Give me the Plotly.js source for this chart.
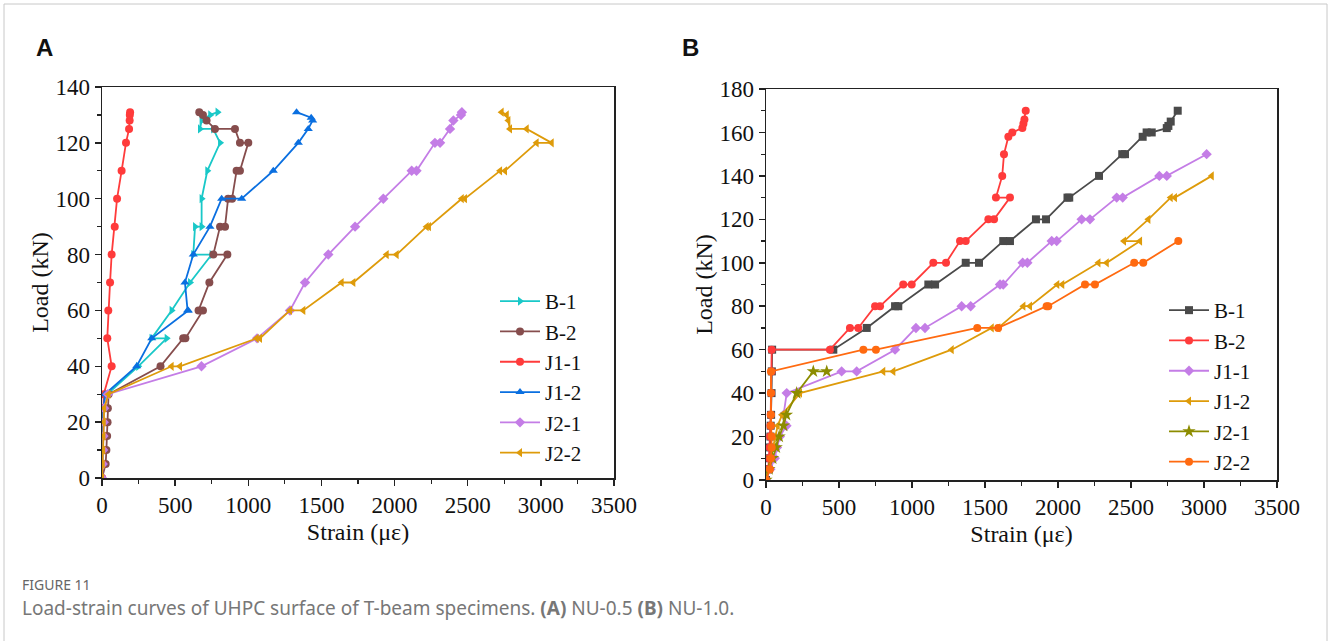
<!DOCTYPE html>
<html>
<head>
<meta charset="utf-8">
<script src="https://cdn.plot.ly/plotly-3.0.1.min.js"></script>
<style>html,body{margin:0;padding:0;background:#fff;}#chart{width:1328px;height:641px;}</style>
</head>
<body>
<div id="chart"></div>
<script>
// ---------- Panel A (NU-0.5) ----------
const seriesNames = ["B-1", "B-2", "J1-1", "J1-2", "J2-1", "J2-2"];

const A_B1_x = [0,2,3,4,5,6,35,248,442,339,476,602,750,624,636,681,681,720,807,760,670,681,740,790];
const A_B1_y = [0,5,10,15,20,25,30,40,50,50,60,70,80,80,90,90,100,110,120,125,125,128,130,131];

const A_B2_x = [0,25,30,35,38,40,45,400,555,570,690,660,734,857,761,807,841,862,889,920,943,1000,943,909,772,715,690,665];
const A_B2_y = [0,5,10,15,20,25,30,40,50,50,60,60,70,80,80,90,90,100,100,110,110,120,120,125,125,128,130,131];

const A_J11_x = [0,3,5,7,8,10,12,66,36,43,55,66,87,103,134,164,185,189,190,192];
const A_J11_y = [0,5,10,15,20,25,30,40,50,60,70,80,90,100,110,120,125,128,130,131];

const A_J12_x = [0,3,5,6,8,10,20,237,340,590,585,567,624,738,818,955,1171,1342,1410,1440,1430,1330];
const A_J12_y = [0,5,10,15,20,25,30,40,50,60,60,70,80,90,100,100,110,120,125,128,129,131];

const A_J21_x = [0,5,8,10,12,15,40,680,1060,1285,1388,1547,1730,1923,2117,2150,2276,2311,2379,2402,2454,2460];
const A_J21_y = [0,5,10,15,20,25,30,40,50,60,70,80,90,100,110,110,120,120,125,128,130,131];

const A_J22_x = [0,5,8,10,12,15,45,476,533,1057,1080,1285,1376,1638,1718,1946,2014,2219,2235,2459,2481,2721,2755,2971,3074,2903,2789,2778,2767,2732];
const A_J22_y = [0,5,10,15,20,25,30,40,40,50,50,60,60,70,70,80,80,90,90,100,100,110,110,120,120,125,125,128,130,131];

// ---------- Panel B (NU-1.0) ----------
const B_B1_x = [0,20,25,28,30,32,35,38,40,42,461,690,884,906,1112,1158,1368,1459,1625,1671,1849,1918,2065,2077,2281,2440,2459,2580,2607,2642,2745,2756,2772,2820];
const B_B1_y = [0,5,10,15,20,25,30,40,50,60,60,70,80,80,90,90,100,100,110,110,120,120,130,130,140,150,150,158,160,160,162,163,165,170];

const B_B2_x = [0,15,20,25,28,30,32,35,38,39,438,575,632,747,781,940,998,1146,1233,1329,1368,1523,1562,1671,1575,1618,1630,1660,1687,1756,1763,1770,1779];
const B_B2_y = [0,5,10,15,20,25,30,40,50,60,60,70,70,80,80,90,90,100,100,110,110,120,120,130,130,140,150,158,160,162,164,166,170];

const B_J11_x = [0,30,60,75,95,140,120,142,518,621,884,1027,1089,1340,1402,1603,1625,1758,1790,1957,1991,2162,2219,2402,2443,2694,2745,3018];
const B_J11_y = [0,5,10,15,20,25,30,40,50,50,60,70,70,80,80,90,90,100,100,110,110,120,120,130,130,140,140,150];

const B_J12_x = [0,15,30,50,60,80,110,233,803,872,1272,1546,1591,1763,1808,1995,2029,2277,2334,2562,2452,2619,2772,2801,3053];
const B_J12_y = [0,5,10,15,20,25,30,40,50,50,60,70,70,80,80,90,90,100,100,110,110,120,130,130,140];

const B_J21_x = [0,20,45,70,90,120,140,210,324,416];
const B_J21_y = [0,5,10,15,20,25,30,40,50,50];

const B_J22_x = [0,27,34,39,39,34,34,34,34,667,753,1447,1590,1922,1933,2185,2253,2522,2584,2824];
const B_J22_y = [0,5,10,15,20,25,30,40,50,60,60,70,70,80,80,90,90,100,100,110];

const xTicks = [0,500,1000,1500,2000,2500,3000,3500];
const yTicksA = [0,20,40,60,80,100,120,140];
const yTicksB = [0,20,40,60,80,100,120,140,160,180];

// ---------- styling ----------
const serif = "Liberation Serif";
const A_colors = ["#19c8c8", "#864d4d", "#ff3b3b", "#0a6fe0", "#c47de6", "#de9b0a"];
const A_symbols = ["triangle-right", "circle", "circle", "triangle-up", "diamond", "triangle-left"];
const B_colors = ["#4a4a4a", "#ff3b3b", "#c47de6", "#de9b0a", "#8c8c00", "#ff6a10"];
const B_symbols = ["square", "circle", "diamond", "triangle-left", "star", "circle"];

const A_data = [[A_B1_x,A_B1_y],[A_B2_x,A_B2_y],[A_J11_x,A_J11_y],[A_J12_x,A_J12_y],[A_J21_x,A_J21_y],[A_J22_x,A_J22_y]];
const B_data = [[B_B1_x,B_B1_y],[B_B2_x,B_B2_y],[B_J11_x,B_J11_y],[B_J12_x,B_J12_y],[B_J21_x,B_J21_y],[B_J22_x,B_J22_y]];

const traces = [];
A_data.forEach((d, i) => {
  traces.push({
    x: d[0], y: d[1], name: seriesNames[i], type: "scatter", mode: "lines+markers",
    xaxis: "x", yaxis: "y", legend: "legend",
    line: {color: A_colors[i], width: 1.8},
    marker: {color: A_colors[i], symbol: A_symbols[i], size: 8}
  });
});
B_data.forEach((d, i) => {
  traces.push({
    x: d[0], y: d[1], name: seriesNames[i], type: "scatter", mode: "lines+markers",
    xaxis: "x2", yaxis: "y2", legend: "legend2",
    line: {color: B_colors[i], width: 1.8},
    marker: {color: B_colors[i], symbol: B_symbols[i], size: i === 4 ? 10 : 8}
  });
});

const W = 1328, H = 641;
function px(x) { return x / W; }
function py(y) { return 1 - y / H; }

function xAxis(domain, anchor) {
  return {
    domain: domain, anchor: anchor, range: [0, 3500], tickvals: xTicks,
    showline: true, mirror: true, linecolor: "#222", linewidth: 1.5,
    ticks: "outside", ticklen: 6, tickwidth: 1.5, tickcolor: "#222",
    minor: {ticks: "outside", ticklen: 4, tickwidth: 1.2, tickcolor: "#222", dtick: 250, showgrid: false},
    showgrid: false, zeroline: false,
    tickfont: {family: serif, size: 23, color: "#111"},
    title: {text: "Strain (με)", font: {family: serif, size: 24, color: "#111"}, standoff: 6}
  };
}
function yAxis(domain, anchor, max, ticks) {
  return {
    domain: domain, anchor: anchor, range: [0, max], tickvals: ticks,
    showline: true, mirror: true, linecolor: "#222", linewidth: 1.5,
    ticks: "outside", ticklen: 6, tickwidth: 1.5, tickcolor: "#222",
    minor: {ticks: "outside", ticklen: 4, tickwidth: 1.2, tickcolor: "#222", dtick: 10, showgrid: false},
    showgrid: false, zeroline: false,
    tickfont: {family: serif, size: 23, color: "#111"},
    title: {text: "Load (kN)", font: {family: serif, size: 24, color: "#111"}, standoff: 0}
  };
}

const legendBase = {
  font: {family: serif, size: 21, color: "#111"},
  bgcolor: "rgba(0,0,0,0)", borderwidth: 0, itemwidth: 40,
  xanchor: "left", yanchor: "top", tracegroupgap: 0
};

const layout = {
  width: W, height: H,
  margin: {l: 0, r: 0, t: 0, b: 0},
  paper_bgcolor: "#fff", plot_bgcolor: "#fff",
  showlegend: true,
  xaxis: xAxis([px(102), px(614)], "y"),
  yaxis: yAxis([py(478), py(87)], "x", 140, yTicksA),
  xaxis2: xAxis([px(766), px(1277)], "y2"),
  yaxis2: yAxis([py(480), py(89)], "x2", 180, yTicksB),
  legend: Object.assign({}, legendBase, {x: px(495), y: py(281)}),
  legend2: Object.assign({}, legendBase, {x: px(1164), y: py(290)}),
  shapes: [
    {type: "rect", xref: "paper", yref: "paper", x0: px(4), x1: px(1327), y0: py(700), y1: py(4),
     line: {color: "#c8c8c8", width: 1}, fillcolor: "rgba(0,0,0,0)", layer: "below"}
  ],
  annotations: [
    {text: "<b>A</b>", xref: "paper", yref: "paper", x: px(34), y: py(47), xanchor: "left", yanchor: "middle",
     showarrow: false, font: {family: "Liberation Sans, Arial, sans-serif", size: 24, color: "#111"}},
    {text: "<b>B</b>", xref: "paper", yref: "paper", x: px(680), y: py(47), xanchor: "left", yanchor: "middle",
     showarrow: false, font: {family: "Liberation Sans, Arial, sans-serif", size: 24, color: "#111"}},
    {text: "FIGURE 11", xref: "paper", yref: "paper", x: px(20), y: py(584), xanchor: "left", yanchor: "middle",
     showarrow: false, font: {family: "Noto Sans, sans-serif", size: 14, color: "#666"}},
    {text: "Load-strain curves of UHPC surface of T-beam specimens. <b>(A)</b> NU-0.5 <b>(B)</b> NU-1.0.",
     xref: "paper", yref: "paper", x: px(20), y: py(608), xanchor: "left", yanchor: "middle",
     showarrow: false, font: {family: "Noto Sans, sans-serif", size: 19, color: "#777"}}
  ]
};

Plotly.newPlot("chart", traces, layout, {displayModeBar: false, staticPlot: true});
</script>
</body>
</html>
